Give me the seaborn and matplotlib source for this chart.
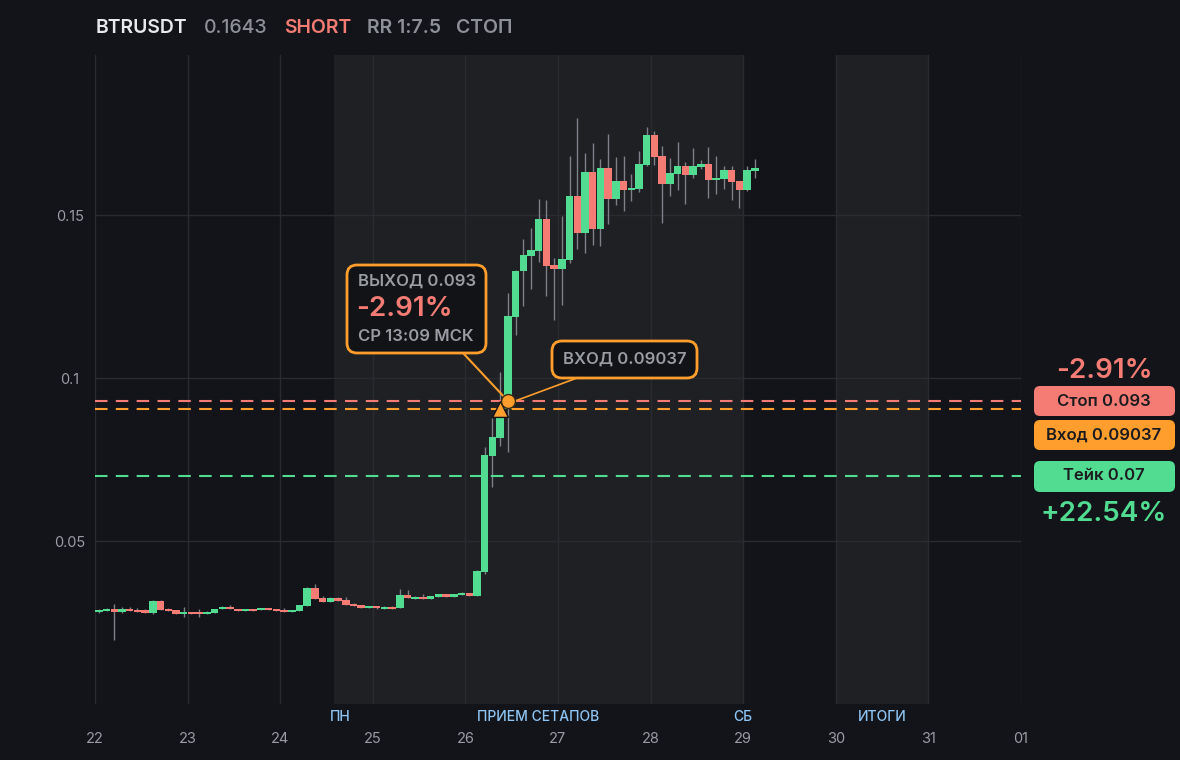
import matplotlib
matplotlib.use("Agg")
import matplotlib.pyplot as plt
from matplotlib.patches import FancyBboxPatch
from matplotlib.transforms import IdentityTransform, blended_transform_factory
import numpy as np
import pandas as pd
import seaborn as sns

# 2-часовые свечи начиная с 22 числа
opens = [0.02832, 0.02853, 0.02914, 0.02832, 0.02914, 0.02883, 0.02883, 0.02802, 0.0316, 0.02914,
         0.02883, 0.02771, 0.02822, 0.02802, 0.02771, 0.02802, 0.02914, 0.02975, 0.02914, 0.02863,
         0.02914, 0.02894, 0.02945, 0.02914, 0.02883, 0.02832, 0.02863, 0.03016, 0.03558, 0.03252,
         0.03139, 0.03252, 0.0319, 0.03078, 0.03037, 0.02955, 0.03006, 0.02924, 0.02975, 0.02955,
         0.03344, 0.03231, 0.03282, 0.03231, 0.03292, 0.03374, 0.03292, 0.03354, 0.03405, 0.03323,
         0.0406, 0.0762, 0.0817, 0.0905, 0.1188, 0.1327, 0.1375, 0.139, 0.1488, 0.1347,
         0.1335, 0.1362, 0.1558, 0.1446, 0.1632, 0.1458, 0.1644, 0.155, 0.1604, 0.1578,
         0.1581, 0.1653, 0.1745, 0.1681, 0.1596, 0.1627, 0.165, 0.1624, 0.1648, 0.1656,
         0.1608, 0.1612, 0.1638, 0.1604, 0.1578, 0.1636]
highs = [0.02924, 0.0293, 0.0307, 0.0297, 0.0297, 0.0294, 0.029, 0.0319, 0.0318, 0.0296,
         0.0289, 0.0297, 0.0283, 0.0292, 0.0285, 0.0292, 0.0301, 0.0304, 0.0292, 0.0292,
         0.0292, 0.0295, 0.0295, 0.0292, 0.0295, 0.0289, 0.0304, 0.036, 0.0367, 0.0331,
         0.0328, 0.0328, 0.0328, 0.0309, 0.0304, 0.0301, 0.0301, 0.0302, 0.0302, 0.0353,
         0.0349, 0.0331, 0.0336, 0.0332, 0.0338, 0.0338, 0.0338, 0.0345, 0.0341, 0.0412,
         0.0789, 0.0877, 0.102, 0.126, 0.133, 0.1426, 0.146, 0.1549, 0.1546, 0.1368,
         0.1497, 0.168, 0.1798, 0.169, 0.172, 0.1672, 0.1748, 0.1678, 0.168, 0.1626,
         0.1696, 0.177, 0.1758, 0.1712, 0.1675, 0.1724, 0.1663, 0.1706, 0.167, 0.1709,
         0.168, 0.165, 0.165, 0.1604, 0.165, 0.1672]
lows = [0.0279, 0.0284, 0.0196, 0.0278, 0.0284, 0.0281, 0.0279, 0.0277, 0.0287, 0.0285,
        0.0276, 0.0268, 0.0276, 0.0268, 0.0276, 0.0279, 0.029, 0.029, 0.0285, 0.0285,
        0.0285, 0.0288, 0.0288, 0.0285, 0.0282, 0.0282, 0.0286, 0.03, 0.0322, 0.0312,
        0.0313, 0.0316, 0.0303, 0.03, 0.0293, 0.0295, 0.0292, 0.0291, 0.0291, 0.0293,
        0.0325, 0.0321, 0.0322, 0.0322, 0.0329, 0.0329, 0.0327, 0.0335, 0.033, 0.033,
        0.04, 0.0666, 0.079, 0.0774, 0.1132, 0.122, 0.1274, 0.1357, 0.1252, 0.1178,
        0.1224, 0.1354, 0.1397, 0.1385, 0.1409, 0.1406, 0.1473, 0.1532, 0.1513, 0.1544,
        0.1572, 0.165, 0.1653, 0.1476, 0.1559, 0.1578, 0.1535, 0.1615, 0.164, 0.1553,
        0.1565, 0.1581, 0.1547, 0.1522, 0.1575, 0.1615]
closes = [0.02883, 0.02914, 0.02832, 0.02914, 0.02853, 0.02822, 0.02802, 0.0316, 0.02883, 0.02863,
          0.02771, 0.02822, 0.02771, 0.0275, 0.02822, 0.02914, 0.02975, 0.02914, 0.02863, 0.02914,
          0.02863, 0.02945, 0.02894, 0.02863, 0.02832, 0.02883, 0.03037, 0.03558, 0.03231, 0.03139,
          0.03252, 0.0317, 0.03047, 0.03016, 0.02955, 0.03006, 0.02955, 0.02975, 0.02924, 0.03344,
          0.03262, 0.03282, 0.03231, 0.03313, 0.03374, 0.03292, 0.03374, 0.03405, 0.03323, 0.0408,
          0.0764, 0.0819, 0.0878, 0.119, 0.1328, 0.1377, 0.1393, 0.1488, 0.1344, 0.1335,
          0.1365, 0.1558, 0.1446, 0.1632, 0.1458, 0.1644, 0.155, 0.1604, 0.1578, 0.1583,
          0.1656, 0.1745, 0.1679, 0.1596, 0.1629, 0.165, 0.1624, 0.165, 0.1656, 0.1608,
          0.1613, 0.1638, 0.1602, 0.1578, 0.1638, 0.1644]

day_ticks = [22, 23, 24, 25, 26, 27, 28, 29, 30, 31, 32]
day_labels = ["22", "23", "24", "25", "26", "27", "28", "29", "30", "31", "01"]
session_names = ["ПН", "ПРИЕМ СЕТАПОВ", "СБ", "ИТОГИ"]
session_pos = [24.65, 26.79, 29.0, 30.5]
shade_spans = [(24.583, 29.0), (30.0, 31.0)]

stop_price = 0.093
entry_price = 0.09037
take_price = 0.07
entry_time = 26.375
exit_time = 26.458

BG = "#131419"
SHADE = "#1f2024"
GRID = "#2a2b30"
GREEN = "#52dc91"
RED = "#f47c74"
ORANGE = "#ff9e2c"
GRAY = "#9a9ca3"
WICK = "#7d8087"
BLUE = "#8ec5f4"
WHITE = "#e8e9ec"
DARK = "#1b1b1f"

sns.set_theme(style="dark", rc={"axes.facecolor": BG, "figure.facecolor": BG})
plt.rcParams["font.family"] = ["Inter", "DejaVu Sans"]

W, H = 1180, 760
fig = plt.figure(figsize=(W / 100, H / 100), dpi=100)
ax = fig.add_axes([95 / W, 1 - 704 / H, (1021 - 95) / W, (704 - 55) / H])
ax.set_facecolor(BG)
for s in ax.spines.values():
    s.set_visible(False)


def fx(x):
    return x / W


def fy(y):
    return 1 - y / H


df = pd.DataFrame({"open": opens, "high": highs, "low": lows, "close": closes})
df["t"] = 22 + (np.arange(len(df)) + 0.5) / 12
df["up"] = df["close"] >= df["open"]

for a, b in shade_spans:
    ax.axvspan(a, b, color=SHADE, zorder=0, lw=0)

ax.set_xlim(22, 32)
ax.set_ylim(0, 0.1991)
ax.set_xticks(day_ticks)
ax.set_xticklabels(day_labels)
ax.set_yticks([0.05, 0.1, 0.15])
ax.set_yticklabels(["0.05", "0.1", "0.15"])
ax.grid(True, color=GRID, lw=1, zorder=1)
ax.set_axisbelow(True)
ax.tick_params(axis="x", length=0, pad=20, labelsize=10.5, labelcolor=GRAY)
ax.tick_params(axis="y", length=0, pad=18, labelsize=10.5, labelcolor=GRAY)
for lbl in ax.get_yticklabels():
    lbl.set_horizontalalignment("center")

# свечи
ax.vlines(df["t"], df["low"], df["high"], color=WICK, lw=1, zorder=2)
body = np.maximum((df["close"] - df["open"]).abs(), 0.0006)
ax.bar(df["t"], body, bottom=np.minimum(df["open"], df["close"]), width=0.97 / 12,
       color=np.where(df["up"], GREEN, RED), lw=0, zorder=3)

# уровни
ax.axhline(stop_price, color=RED, lw=1.5, dashes=(6, 4), zorder=4)
ax.axhline(entry_price, color=ORANGE, lw=1.5, dashes=(6, 4), zorder=4)
ax.axhline(take_price, color=GREEN, lw=1.5, dashes=(6, 4), zorder=4)

# сессии
tr = blended_transform_factory(ax.transData, fig.transFigure)
for name, pos in zip(session_names, session_pos):
    ax.text(pos, fy(717), name, transform=tr, ha="center", va="center",
            fontsize=10, color=BLUE, fontweight="medium")

# выноски
ax.annotate("", xy=(exit_time, stop_price), xycoords="data",
            xytext=(fx(463), fy(353)), textcoords="figure fraction",
            arrowprops=dict(arrowstyle="-", color=ORANGE, lw=1.5, shrinkA=0, shrinkB=0), zorder=5)
ax.annotate("", xy=(entry_time + 0.03, entry_price + 0.0012), xycoords="data",
            xytext=(fx(577), fy(378)), textcoords="figure fraction",
            arrowprops=dict(arrowstyle="-", color=ORANGE, lw=1.2, shrinkA=0, shrinkB=0), zorder=5)

marks = pd.DataFrame({"t": [entry_time, exit_time], "p": [entry_price, stop_price],
                      "kind": ["вход", "выход"]})
sns.scatterplot(data=marks[marks["kind"] == "вход"], x="t", y="p", marker="^", s=130,
                color=ORANGE, edgecolor=BG, linewidth=1, ax=ax, zorder=6)
sns.scatterplot(data=marks[marks["kind"] == "выход"], x="t", y="p", marker="o", s=100,
                color=ORANGE, edgecolor="#3a2a12", linewidth=1, ax=ax, zorder=7)
ax.set_xlabel("")
ax.set_ylabel("")


def box(x0, y0, x1, y1, face, edge=None, lw=0, r=8):
    p = FancyBboxPatch((x0, H - y1), x1 - x0, y1 - y0,
                       boxstyle=f"round,pad=0,rounding_size={r}",
                       transform=IdentityTransform(), facecolor=face,
                       edgecolor=edge if edge else face, linewidth=lw, zorder=10)
    fig.patches.append(p)


box(347, 265, 486, 353, "#121317", ORANGE, 2, 10)
fig.text(fx(358), fy(281), "ВЫХОД 0.093", ha="left", va="center", fontsize=12,
         color=GRAY, fontweight="semibold", zorder=11)
fig.text(fx(356), fy(309), "-2.91%", ha="left", va="center", fontsize=20,
         color=RED, fontweight="semibold", zorder=11)
fig.text(fx(358), fy(336), "СР 13:09 МСК", ha="left", va="center", fontsize=12,
         color=GRAY, fontweight="semibold", zorder=11)

box(552, 341, 697, 378, "#121317", ORANGE, 2, 10)
fig.text(fx(563), fy(359), "ВХОД 0.09037", ha="left", va="center", fontsize=12,
         color=GRAY, fontweight="semibold", zorder=11)

# правая панель
fig.text(fx(1104), fy(371), "-2.91%", ha="center", va="center", fontsize=20,
         color=RED, fontweight="semibold")
box(1034, 386, 1175, 416, RED, r=6)
fig.text(fx(1104), fy(401), "Стоп 0.093", ha="center", va="center", fontsize=12,
         color=DARK, fontweight="semibold", zorder=11)
box(1034, 420, 1175, 450, ORANGE, r=6)
fig.text(fx(1104), fy(435), "Вход 0.09037", ha="center", va="center", fontsize=12,
         color=DARK, fontweight="semibold", zorder=11)
box(1034, 461, 1175, 492, GREEN, r=6)
fig.text(fx(1104), fy(476), "Тейк 0.07", ha="center", va="center", fontsize=12,
         color=DARK, fontweight="semibold", zorder=11)
fig.text(fx(1104), fy(514), "+22.54%", ha="center", va="center", fontsize=20,
         color=GREEN, fontweight="semibold")

# заголовок
title_parts = [("BTRUSDT", 96, WHITE, "semibold"), ("0.1643", 204, "#8e9097", "medium"),
               ("SHORT", 284, RED, "semibold"), ("RR 1:7.5", 367, "#8e9097", "semibold"),
               ("СТОП", 456, "#8e9097", "semibold")]
for txt, x, c, w in title_parts:
    fig.text(fx(x), fy(28), txt, ha="left", va="center", fontsize=14, color=c, fontweight=w)

fig.savefig("out.png", dpi=100, facecolor=BG)
